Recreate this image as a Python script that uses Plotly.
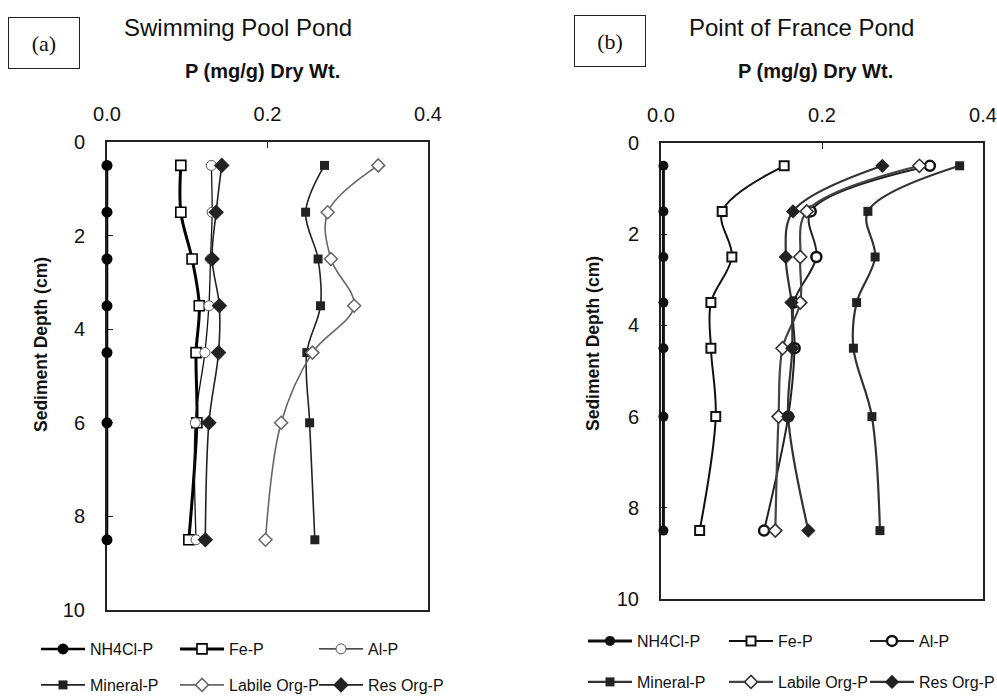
import plotly.graph_objects as go

# ---------------- data ----------------
depth = [0.5, 1.5, 2.5, 3.5, 4.5, 6, 8.5]
series_names = ["NH4Cl-P", "Fe-P", "Al-P", "Mineral-P", "Labile Org-P", "Res Org-P"]

# (a) Swimming Pool Pond
spp_nh4cl = [0.0, 0.0, 0.0, 0.0, 0.0, 0.0, 0.0]
spp_fe = [0.092, 0.092, 0.106, 0.115, 0.111, 0.112, 0.102]
spp_al = [0.130, 0.131, 0.129, 0.127, 0.122, 0.110, 0.111]
spp_mineral = [0.271, 0.2475, 0.263, 0.266, 0.249, 0.2525, 0.259]
spp_labile = [0.338, 0.275, 0.279, 0.308, 0.256, 0.217, 0.1975]
spp_res = [0.143, 0.136, 0.131, 0.140, 0.139, 0.127, 0.1225]

# (b) Point of France Pond
pof_nh4cl = [0.003, 0.003, 0.003, 0.003, 0.003, 0.003, 0.003]
pof_fe = [0.153, 0.076, 0.088, 0.062, 0.062, 0.068, 0.048]
pof_al = [0.334, 0.186, 0.193, 0.165, 0.166, 0.158, 0.128]
pof_mineral = [0.371, 0.257, 0.266, 0.243, 0.239, 0.262, 0.272]
pof_labile = [0.321, 0.181, 0.173, 0.173, 0.151, 0.146, 0.142]
pof_res = [0.275, 0.164, 0.155, 0.162, 0.163, 0.158, 0.183]

x_ticks = [0.0, 0.2, 0.4]
y_ticks = [0, 2, 4, 6, 8, 10]

W, H = 997, 696
FONT = "Liberation Sans Narrow, Arial Narrow, Liberation Sans, Arial, sans-serif"

left_styles = [
    dict(line=dict(color="#000", width=2.5), marker=dict(symbol="circle", size=11, color="#000")),
    dict(line=dict(color="#000", width=3), marker=dict(symbol="square", size=10, color="#fff", line=dict(color="#000", width=1.6))),
    dict(line=dict(color="#111", width=1.3), marker=dict(symbol="circle", size=10, color="#fff", line=dict(color="#555", width=1))),
    dict(line=dict(color="#222", width=1.6), marker=dict(symbol="square", size=9, color="#222")),
    dict(line=dict(color="#666", width=1.6), marker=dict(symbol="diamond", size=10, color="#fff", line=dict(color="#666", width=1.5))),
    dict(line=dict(color="#222", width=1.6), marker=dict(symbol="diamond", size=12, color="#222")),
]
right_styles = [
    dict(line=dict(color="#111", width=3), marker=dict(symbol="circle", size=10, color="#111")),
    dict(line=dict(color="#111", width=2), marker=dict(symbol="square", size=9, color="#fff", line=dict(color="#111", width=2))),
    dict(line=dict(color="#222", width=2), marker=dict(symbol="circle", size=10, color="#fff", line=dict(color="#111", width=2.5))),
    dict(line=dict(color="#333", width=2.2), marker=dict(symbol="square", size=9, color="#222")),
    dict(line=dict(color="#444", width=2.2), marker=dict(symbol="diamond", size=10, color="#fff", line=dict(color="#333", width=1.6))),
    dict(line=dict(color="#333", width=2.2), marker=dict(symbol="diamond", size=11, color="#222")),
]

fig = go.Figure()
left_vals = [spp_nh4cl, spp_fe, spp_al, spp_mineral, spp_labile, spp_res]
right_vals = [pof_nh4cl, pof_fe, pof_al, pof_mineral, pof_labile, pof_res]

for i, (name, vals, st) in enumerate(zip(series_names, left_vals, left_styles)):
    fig.add_trace(go.Scatter(
        x=vals, y=depth, name=name, mode="lines+markers", line_shape="spline",
        line=st["line"], marker=st["marker"], cliponaxis=False,
        xaxis="x", yaxis="y", legend="legend" if i < 3 else "legend2"))
for i, (name, vals, st) in enumerate(zip(series_names, right_vals, right_styles)):
    fig.add_trace(go.Scatter(
        x=vals, y=depth, name=name, mode="lines+markers", line_shape="spline",
        line=st["line"], marker=st["marker"], cliponaxis=False,
        xaxis="x2", yaxis="y2", legend="legend3" if i < 3 else "legend4"))

def xaxis(domain, anchor):
    return dict(domain=domain, anchor=anchor, side="top", range=[0, 0.4],
                tickvals=x_ticks, tickformat=".1f", ticks="inside", ticklen=6,
                tickcolor="#222", tickwidth=1.2,
                showline=True, linecolor="#222", linewidth=2, mirror=True,
                showgrid=False, zeroline=False, layer="below traces",
                ticklabelstandoff=11,
                tickfont=dict(family=FONT, size=20, color="#111"))

def yaxis(domain, anchor):
    return dict(domain=domain, anchor=anchor, range=[10, 0],
                tickvals=y_ticks, ticks="inside", ticklen=6,
                tickcolor="#222", tickwidth=1.2,
                showline=True, linecolor="#222", linewidth=2, mirror=True,
                showgrid=False, zeroline=False, layer="below traces",
                ticklabelstandoff=16,
                tickfont=dict(family=FONT, size=20, color="#111"))

def px(x):
    return x / W

def py(y):
    return 1 - y / H

legend_common = dict(orientation="h", xanchor="left", yanchor="middle",
                     bgcolor="rgba(0,0,0,0)", borderwidth=0,
                     entrywidth=82, entrywidthmode="pixels", itemwidth=44,
                     font=dict(family=FONT, size=16, color="#111"),
                     tracegroupgap=0)

fig.update_layout(
    width=W, height=H, autosize=False,
    margin=dict(l=0, r=0, t=0, b=0, autoexpand=False),
    paper_bgcolor="white", plot_bgcolor="white",
    xaxis=xaxis([px(107), px(428)], "y"),
    yaxis=yaxis([py(610), py(142)], "x"),
    xaxis2=xaxis([px(661), px(983)], "y2"),
    yaxis2=yaxis([py(599), py(143)], "x2"),
    legend=dict(legend_common, entrywidth=80, x=px(36), y=py(649)),
    legend2=dict(legend_common, entrywidth=80, x=px(36), y=py(685)),
    legend3=dict(legend_common, x=px(583), y=py(641)),
    legend4=dict(legend_common, x=px(583), y=py(682)),
)

ann = []
ann.append(dict(text="Swimming Pool Pond", x=px(238), y=py(27), xref="paper", yref="paper",
                showarrow=False, xanchor="center", yanchor="middle",
                font=dict(family=FONT, size=24, color="#111")))
ann.append(dict(text="Point of France Pond", x=px(801), y=py(27), xref="paper", yref="paper",
                showarrow=False, xanchor="center", yanchor="middle",
                font=dict(family=FONT, size=24, color="#111")))
for cx in (262, 815):
    ann.append(dict(text="<b>P (mg/g) Dry Wt.</b>", x=px(cx), y=py(71), xref="paper", yref="paper",
                    showarrow=False, xanchor="center", yanchor="middle",
                    font=dict(family=FONT, size=20, color="#111")))
for cx, cy in ((41, 345), (593, 344)):
    ann.append(dict(text="<b>Sediment Depth (cm)</b>", x=px(cx), y=py(cy), xref="paper", yref="paper",
                    showarrow=False, xanchor="center", yanchor="middle", textangle=-90,
                    font=dict(family=FONT, size=17.5, color="#111")))
for label, cx, cy in (("(a)", 44, 43), ("(b)", 610, 41)):
    ann.append(dict(text=label, x=px(cx), y=py(cy), xref="paper", yref="paper",
                    showarrow=False, xanchor="center", yanchor="middle",
                    width=68, height=48, bordercolor="#222", borderwidth=1, borderpad=1,
                    font=dict(family="Liberation Serif, Times New Roman, serif", size=22, color="#111")))
fig.update_layout(annotations=ann)

fig.write_html("out.html")
